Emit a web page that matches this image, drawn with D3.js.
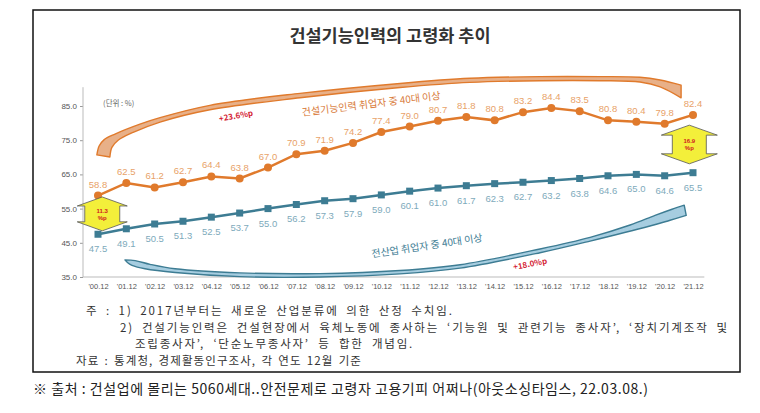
<!DOCTYPE html>
<html><head><meta charset="utf-8">
<script src="https://cdn.jsdelivr.net/npm/d3@7"></script>
<style>body{margin:0;background:#fff;} svg{display:block;}</style>
</head><body>
<svg id="c" width="760" height="413"></svg>
<script>
const years = ["'00.12","'01.12","'02.12","'03.12","'04.12","'05.12","'06.12","'07.12","'08.12","'09.12","'10.12","'11.12","'12.12","'13.12","'14.12","'15.12","'16.12","'17.12","'18.12","'19.12","'20.12","'21.12"];
const skilledOver40 = [58.8,62.5,61.2,62.7,64.4,63.8,67.0,70.9,71.9,74.2,77.4,79.0,80.7,81.8,80.8,83.2,84.4,83.5,80.8,80.4,79.8,82.4];
const allIndustryOver40 = [47.5,49.1,50.5,51.3,52.5,53.7,55.0,56.2,57.3,57.9,59.0,60.1,61.0,61.7,62.3,62.7,63.2,63.8,64.6,65.0,64.6,65.5];
const yTicks = [35,45,55,65,75,85];
const title = "건설기능인력의 고령화 추이";
const unitLabel = "(단위 : %)";
const seriesNames = ["건설기능인력 취업자 중 40대 이상", "전산업 취업자 중 40대 이상"];
const growthLabels = ["+23.6%p", "+18.0%p"];
const gapLabels = ["11.3", "16.9"];
const notes = [
  "주 : 1) 2017년부터는 새로운 산업분류에 의한 산정 수치임.",
  "2) 건설기능인력은 건설현장에서 육체노동에 종사하는 ‘기능원 및 관련기능 종사자’, ‘장치기계조작 및",
  "조립종사자’, ‘단순노무종사자’ 등 합한 개념임.",
  "자료 : 통계청, 경제활동인구조사, 각 연도 12월 기준"
];
const sourceText = "※ 출처 : 건설업에 몰리는 5060세대..안전문제로 고령자 고용기피 어쩌나(아웃소싱타임스, 22.03.08.)";

// decorative swoosh arrows, in chart units [year index, value]
const orangeSwooshUpper = [[-0.04,70.7],[0.04,73.3],[0.21,75.1],[0.6,76.8],[1.48,79.7],[2.19,81.6],[3.95,85.2],[7.13,88.7],[10.66,91.6],[13.13,93.1],[15.6,93.6],[17.72,93.6],[19.13,93.4],[19.84,92.6],[20.58,91.1]];
const orangeSwooshLower = [[20.58,87.4],[19.84,90.6],[19.13,92.0],[17.72,92.4],[15.6,92.4],[13.13,91.9],[10.66,90.4],[7.13,87.4],[3.95,83.9],[2.19,80.3],[1.24,77.3],[0.71,75.0],[0.49,72.9],[0.42,70.1]];
const blueSwooshUpper = [[0.95,40.0],[1.31,39.8],[1.84,38.7],[2.72,37.4],[5.01,36.2],[7.84,36.0],[10.66,36.9],[12.78,38.6],[15.6,43.2],[17.37,46.6],[18.78,50.2],[19.66,53.0],[20.26,54.8],[20.69,56.0]];
const blueSwooshLower = [[20.76,53.0],[20.19,51.6],[19.48,49.9],[17.37,45.5],[15.6,42.1],[12.78,37.6],[10.66,35.9],[7.84,35.0],[5.01,35.1],[2.72,36.3],[1.66,37.4],[1.2,38.4],[1.06,39.1],[0.95,40.0]];

const svg = d3.select("#c");

const xi = d3.scaleLinear().domain([0, years.length - 1]).range([98, 693]);
const y = d3.scaleLinear().domain([35, 85]).range([277, 106]);

const ORANGE = "#e07a2c", ORANGE_LBL = "#e8a268", BLUE = "#3d7c93", BLUE_LBL = "#7eaabb";

// outer frame
svg.append("rect").attr("x", 33).attr("y", 10).attr("width", 707).attr("height", 362)
  .attr("fill", "#fff").attr("stroke", "#111").attr("stroke-width", 1.5);

// title
svg.append("text").attr("x", 390).attr("y", 42).attr("text-anchor", "middle")
  .attr("font-family", "'Noto Sans CJK KR'").attr("font-weight", "bold").attr("font-size", 17.5)
  .attr("fill", "#333").text(title);

// axes
const yAxis = d3.axisLeft(y).tickValues(yTicks).tickFormat(d3.format(".1f")).tickSize(3).tickPadding(3);
const gy = svg.append("g").attr("transform", "translate(83,0)").call(yAxis);
gy.select(".domain").remove();
gy.selectAll(".tick line").attr("stroke", "#999");
gy.selectAll("text").attr("font-family", "'Liberation Sans'").attr("font-size", 8).attr("fill", "#555");
svg.append("line").attr("x1", 83).attr("x2", 83).attr("y1", y(90.5)).attr("y2", y(35)).attr("stroke", "#bbb").attr("stroke-width", 1);

const xAxis = d3.axisBottom(xi).tickValues(d3.range(years.length)).tickFormat(i => years[i]).tickSize(0).tickPadding(7);
const gx = svg.append("g").attr("transform", `translate(0,${y(35)})`).call(xAxis);
gx.select(".domain").remove();
gx.selectAll("text").attr("font-family", "'Liberation Sans'").attr("font-size", 7.5).attr("fill", "#555");
svg.append("line").attr("x1", 83).attr("x2", xi(21.4)).attr("y1", y(35)).attr("y2", y(35)).attr("stroke", "#bbb").attr("stroke-width", 1);

// unit label
svg.append("text").attr("x", xi(0.18)).attr("y", y(85.9) + 3).attr("font-family", "'Noto Sans CJK KR'")
  .attr("font-size", 7.5).attr("fill", "#666").text(unitLabel);

// swooshes
const sw = d3.line().x(d => xi(d[0])).y(d => y(d[1])).curve(d3.curveCatmullRom);
function band(u, l) { return sw(u) + sw(l).replace(/^M/, "L") + "Z"; }
svg.append("path").attr("d", band(orangeSwooshUpper, orangeSwooshLower))
  .attr("fill", "#e8b088").attr("stroke", ORANGE).attr("stroke-width", 1.4).attr("stroke-linejoin", "round");
svg.append("path").attr("d", band(blueSwooshUpper, blueSwooshLower))
  .attr("fill", "#a6cde0").attr("stroke", BLUE).attr("stroke-width", 1.4).attr("stroke-linejoin", "round");

// series labels on swooshes
function rotText(i, v, ang, txt, size, color, weight) {
  svg.append("text").attr("transform", `translate(${xi(i)},${y(v)}) rotate(${ang})`)
    .attr("text-anchor", "middle").attr("dy", "0.35em")
    .attr("font-family", "'Noto Sans CJK KR'").attr("font-size", size).attr("font-weight", weight || "normal")
    .attr("fill", color).text(txt);
}
rotText(9.64, 85.6, -7, seriesNames[0], 10, "#d97c3c");
rotText(11.61, 44.1, -8.5, seriesNames[1], 10, BLUE);
rotText(4.87, 82.1, -10, growthLabels[0], 8, "#d41f36", "bold");
rotText(15.25, 38.8, -11, growthLabels[1], 8, "#d41f36", "bold");

// lines
const ln = d3.line().x((d, i) => xi(i)).y(d => y(d));
svg.append("path").attr("d", ln(skilledOver40)).attr("fill", "none").attr("stroke", ORANGE).attr("stroke-width", 2.5);
svg.append("path").attr("d", ln(allIndustryOver40)).attr("fill", "none").attr("stroke", BLUE).attr("stroke-width", 2.5);

svg.selectAll(".pto").data(skilledOver40).join("circle").attr("class", "pto")
  .attr("cx", (d, i) => xi(i)).attr("cy", d => y(d)).attr("r", 4).attr("fill", ORANGE);
svg.selectAll(".ptb").data(allIndustryOver40).join("rect").attr("class", "ptb")
  .attr("x", (d, i) => xi(i) - 3.5).attr("y", d => y(d) - 3.5).attr("width", 7).attr("height", 7).attr("fill", BLUE);

svg.selectAll(".lo").data(skilledOver40).join("text").attr("class", "lo")
  .attr("x", (d, i) => xi(i)).attr("y", d => y(d) - 8).attr("text-anchor", "middle")
  .attr("font-family", "'Liberation Sans'").attr("font-size", 9.5).attr("fill", ORANGE_LBL).text(d => d.toFixed(1));
svg.selectAll(".lb").data(allIndustryOver40).join("text").attr("class", "lb")
  .attr("x", (d, i) => xi(i)).attr("y", d => y(d) + 18).attr("text-anchor", "middle")
  .attr("font-family", "'Liberation Sans'").attr("font-size", 9.5).attr("fill", BLUE_LBL).text(d => d.toFixed(1));

// yellow gap arrows
function gapArrow(i, vTop, vBot, w, sw2, hh, lbl) {
  const cx = xi(i), t = y(vTop), b = y(vBot);
  const pts = [[cx, t], [cx + w / 2, t + hh], [cx + sw2 / 2, t + hh], [cx + sw2 / 2, b - hh], [cx + w / 2, b - hh], [cx, b],
               [cx - w / 2, b - hh], [cx - sw2 / 2, b - hh], [cx - sw2 / 2, t + hh], [cx - w / 2, t + hh]];
  svg.append("path").attr("d", "M" + pts.map(p => p.join(",")).join("L") + "Z")
    .attr("fill", "#f3ef3a").attr("stroke", "#555").attr("stroke-width", 0.8);
  const mid = (t + b) / 2;
  svg.append("text").attr("x", cx).attr("y", mid - 1).attr("text-anchor", "middle").attr("font-family", "'Liberation Sans'")
    .attr("font-weight", "bold").attr("font-size", 6).attr("fill", "#d02020").text(lbl);
  svg.append("text").attr("x", cx).attr("y", mid + 6).attr("text-anchor", "middle").attr("font-family", "'Liberation Sans'")
    .attr("font-weight", "bold").attr("font-size", 6).attr("fill", "#d02020").text("%p");
}
gapArrow(0.15, 58.4, 48.5, 50, 35, 9, gapLabels[0]);
gapArrow(20.87, 79.4, 68.1, 56, 34, 10, gapLabels[1]);

// notes: stretch to the reference widths, mostly through letter spacing
const noteX = [86, 120, 135, 76], noteY = [315, 331.5, 348, 364.5], noteW = [368, 609, 279, 286];
notes.forEach((t, k) => {
  const el = svg.append("text").attr("x", noteX[k]).attr("y", noteY[k]).attr("font-family", "'Noto Sans CJK KR'")
    .attr("font-size", 11.5).attr("fill", "#333").text(t);
  const nat = el.node().getComputedTextLength();
  const extra = noteW[k] - nat;
  if (extra > 0) {
    const nSp = (t.match(/ /g) || []).length, nCh = t.length;
    el.attr("letter-spacing", (extra * 0.75 / nCh).toFixed(3)).attr("word-spacing", (extra * 0.25 / nSp).toFixed(3));
  }
});

// source
svg.append("text").attr("x", 33).attr("y", 394).attr("font-family", "'Noto Sans CJK KR'")
  .attr("font-size", 14).attr("fill", "#222").attr("textLength", 615).attr("lengthAdjust", "spacing").text(sourceText);
</script>
</body></html>
